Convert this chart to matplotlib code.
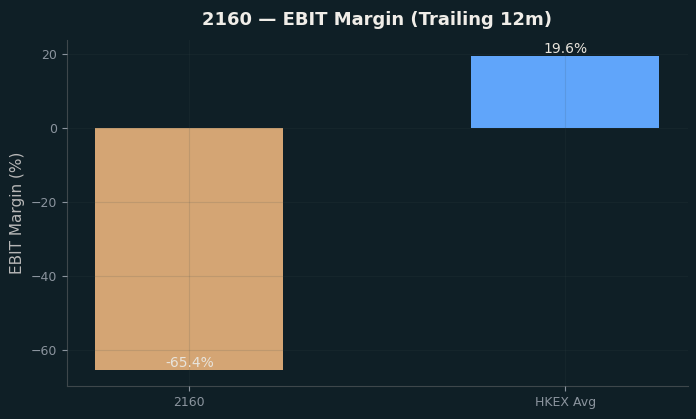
import matplotlib
matplotlib.use("Agg")
import matplotlib.pyplot as plt

labels = ["2160", "HKEX Avg"]
values = [-65.4, 19.6]
colors = ["#d4a574", "#60a5fa"]

bg = "#0f1f26"
fig, ax = plt.subplots(figsize=(6.96, 4.19), dpi=100)
fig.patch.set_facecolor(bg)
ax.set_facecolor(bg)

x = range(len(labels))
ax.bar(x, values, width=0.5, color=colors, zorder=1)
ax.grid(True, color="#3a4a50", alpha=0.14, linewidth=0.8, zorder=2)
ax.set_axisbelow(False)

for i, v in enumerate(values):
    ax.text(i, v, f"{v:.1f}%", ha="center", va="bottom", color="#e8e4dc", fontsize=10, zorder=3)

ax.set_xticks(list(x))
ax.set_xticklabels(labels)
ax.set_ylabel("EBIT Margin (%)", color="#b8b8b8", fontsize=11)
ax.set_title("2160 — EBIT Margin (Trailing 12m)", color="#f0ede8", fontsize=13, fontweight="bold", pad=11)
ax.tick_params(colors="#8b949e", labelsize=9)
for s in ["top", "right"]:
    ax.spines[s].set_visible(False)
for s in ["left", "bottom"]:
    ax.spines[s].set_color("#3e474b")

fig.subplots_adjust(left=0.0963, right=0.988, top=0.9045, bottom=0.0788)
fig.savefig("out.png", dpi=100, facecolor=bg)
